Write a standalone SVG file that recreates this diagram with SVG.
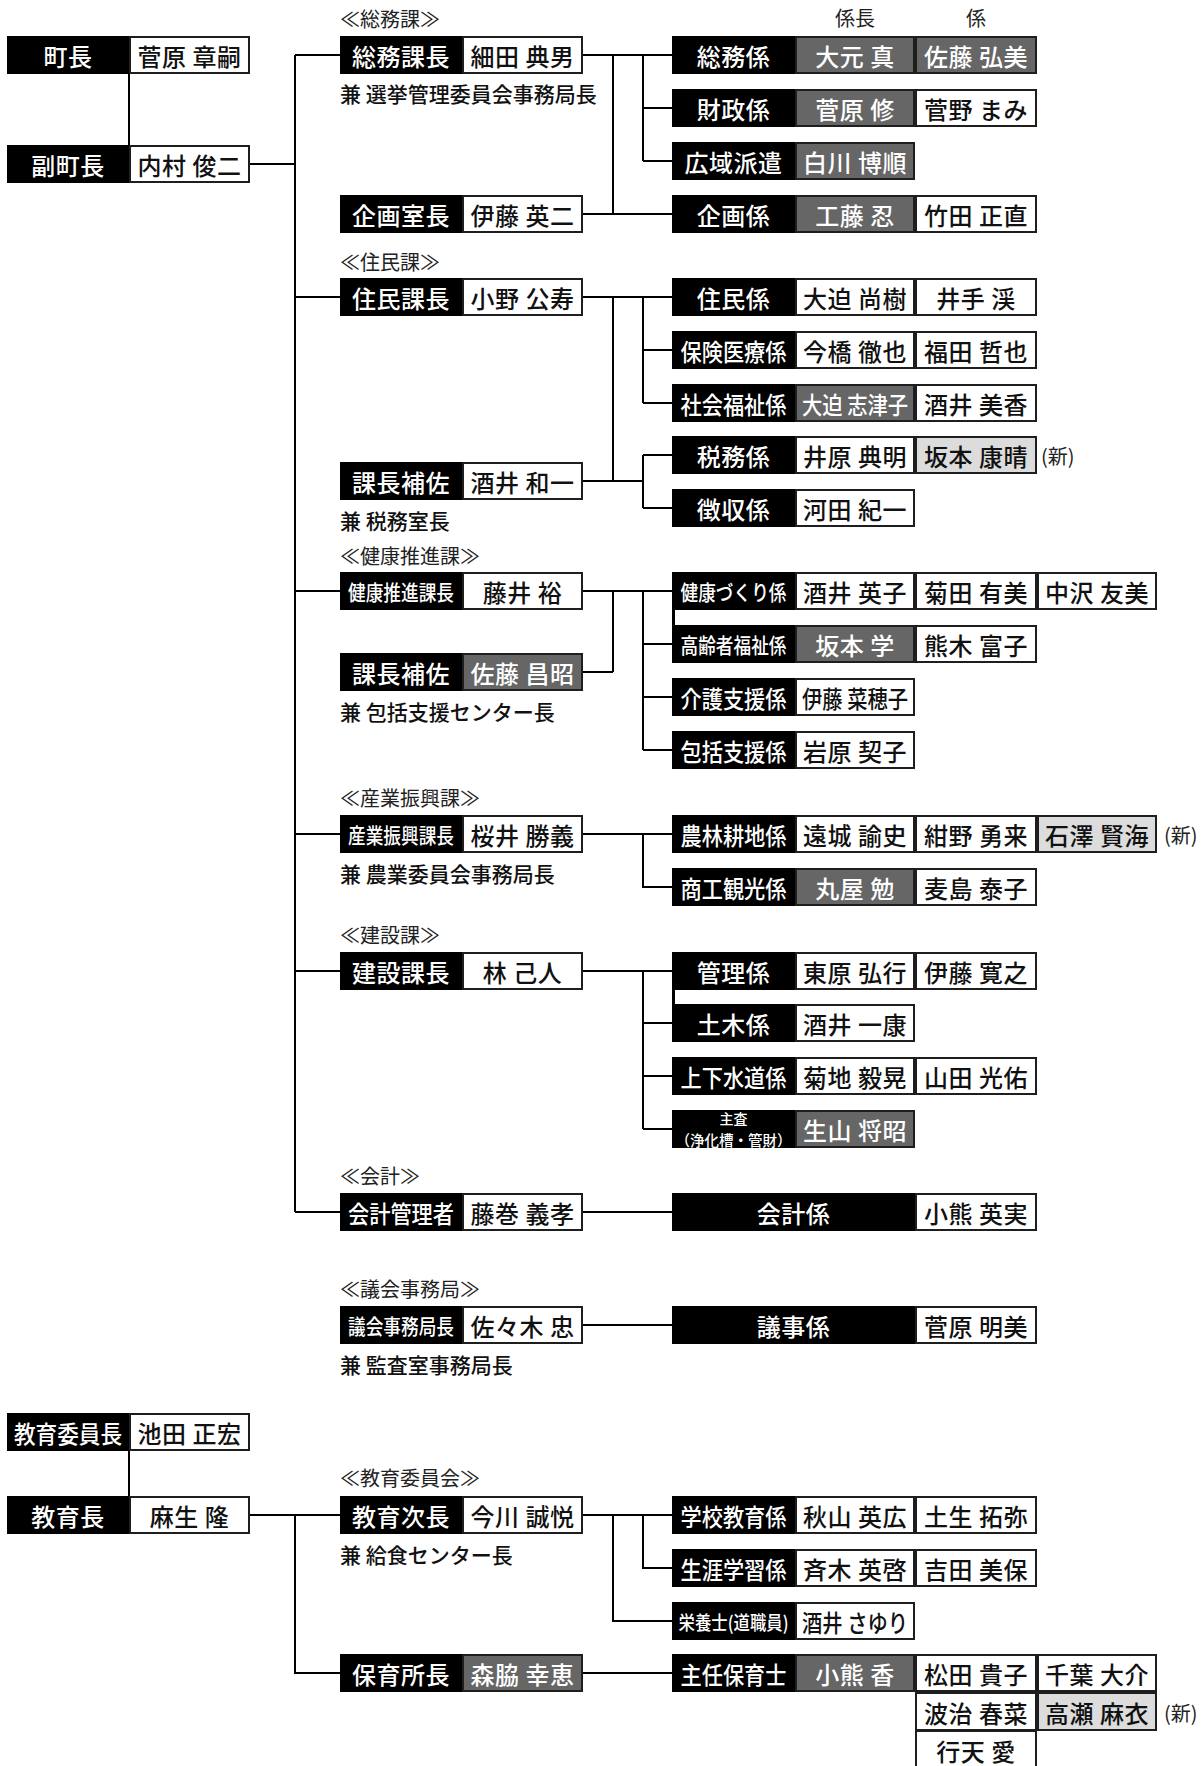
<svg xmlns="http://www.w3.org/2000/svg" width="1203" height="1766" viewBox="0 0 1203 1766">
<defs><style>
.k{fill:#000}
.w{fill:#fff;stroke:#1e1e1e;stroke-width:2}
.g{fill:#666;stroke:#1e1e1e;stroke-width:2}
.l{fill:#dcdcdc;stroke:#1e1e1e;stroke-width:2}
text{font-family:"Noto Sans CJK JP","Noto Sans CJK SC",sans-serif}
.t{font-size:24px;font-weight:500;letter-spacing:0.5px;text-anchor:middle;dominant-baseline:central;fill:#111}
.c{letter-spacing:0}
.s6{font-size:21px}
.on{fill:#fff}
.sec{font-size:20px;font-weight:400;fill:#222;dominant-baseline:central}
.sub{font-size:21px;font-weight:500;fill:#111;dominant-baseline:central}
.hd{font-size:20px;font-weight:400;fill:#222;text-anchor:middle;dominant-baseline:central}
.new{font-size:20px;font-weight:400;fill:#222;dominant-baseline:central}
.sm{font-weight:500;fill:#fff;text-anchor:middle;dominant-baseline:central}
.conn{fill:none;stroke:#000;stroke-width:2}
</style></defs>
<rect width="1203" height="1766" fill="#fff"/>

<g id="connectors" class="conn">
<path d="M129 74V145"/>
<path d="M250 164H295"/>
<path d="M295 55V1212"/>
<path d="M295 55H340M295 297H340M295 591H340M295 834H340M295 971H340M295 1212H340"/>
<path d="M583 55H672M613 55V214M583 214H672M643 55V161M643 108H672M643 161H672"/>
<path d="M583 297H672M613 297V481M583 481H643M643 297V403M643 350H672M643 403H672M643 455V508M643 455H672M643 508H672"/>
<path d="M583 591H672M613 591V672M583 672H613M643 591V750M643 644H672M643 697H672M643 750H672"/>
<path d="M583 834H672M643 834V887H672"/>
<path d="M583 971H672M643 971V1129M643 1023H672M643 1076H672M643 1129H672"/>
<path d="M583 1212H672"/>
<path d="M583 1325H672"/>
<path d="M129 1451V1496"/>
<path d="M250 1515H340M295 1515V1673H340"/>
<path d="M583 1515H672M613 1515V1621H672M643 1515V1568H672"/>
<path d="M583 1673H672"/>
</g>

<g id="headers">
<text class="hd" x="855" y="17">係長</text>
<text class="hd" x="976" y="17">係</text>
</g>

<g id="section-labels">
<text class="sec" x="340" y="18">≪総務課≫</text>
<text class="sec" x="340" y="261">≪住民課≫</text>
<text class="sec" x="340" y="555">≪健康推進課≫</text>
<text class="sec" x="340" y="797">≪産業振興課≫</text>
<text class="sec" x="340" y="934">≪建設課≫</text>
<text class="sec" x="340" y="1175">≪会計≫</text>
<text class="sec" x="340" y="1288">≪議会事務局≫</text>
<text class="sec" x="340" y="1477">≪教育委員会≫</text>
</g>

<!-- Column A -->
<g id="chocho">
<rect class="k" x="7" y="36" width="122" height="38"/>
<rect class="w" x="130" y="37" width="119" height="36"/>
<text class="t on" x="68" y="55">町長</text>
<text class="t" x="189.5" y="55">菅原 章嗣</text>
</g>
<g id="fukuchocho">
<rect class="k" x="7" y="145" width="122" height="38"/>
<rect class="w" x="130" y="146" width="119" height="36"/>
<text class="t on" x="68" y="164">副町長</text>
<text class="t" x="189.5" y="164">内村 俊二</text>
</g>
<g id="kyoiku-iincho">
<rect class="k" x="7" y="1413" width="122" height="38"/>
<rect class="w" x="130" y="1414" width="119" height="36"/>
<text class="t on c" x="68" y="1432" textLength="108" lengthAdjust="spacingAndGlyphs">教育委員長</text>
<text class="t" x="189.5" y="1432">池田 正宏</text>
</g>
<g id="kyoikucho">
<rect class="k" x="7" y="1496" width="122" height="38"/>
<rect class="w" x="130" y="1497" width="119" height="36"/>
<text class="t on" x="68" y="1515">教育長</text>
<text class="t" x="189.5" y="1515">麻生 隆</text>
</g>

<!-- Column B -->
<g id="somu-kacho">
<rect class="k" x="340" y="36" width="122" height="38"/>
<rect class="w" x="463" y="37" width="119" height="36"/>
<text class="t on" x="401" y="55">総務課長</text>
<text class="t" x="522.5" y="55">細田 典男</text>
<text class="sub" x="340" y="93">兼 選挙管理委員会事務局長</text>
</g>
<g id="kikaku-shitsucho">
<rect class="k" x="340" y="195" width="122" height="38"/>
<rect class="w" x="463" y="196" width="119" height="36"/>
<text class="t on" x="401" y="214">企画室長</text>
<text class="t" x="522.5" y="214">伊藤 英二</text>
</g>
<g id="jumin-kacho">
<rect class="k" x="340" y="278" width="122" height="38"/>
<rect class="w" x="463" y="279" width="119" height="36"/>
<text class="t on" x="401" y="297">住民課長</text>
<text class="t" x="522.5" y="297">小野 公寿</text>
</g>
<g id="jumin-hosa">
<rect class="k" x="340" y="462" width="122" height="38"/>
<rect class="w" x="463" y="463" width="119" height="36"/>
<text class="t on" x="401" y="481">課長補佐</text>
<text class="t" x="522.5" y="481">酒井 和一</text>
<text class="sub" x="340" y="520">兼 税務室長</text>
</g>
<g id="kenko-kacho">
<rect class="k" x="340" y="572" width="122" height="38"/>
<rect class="w" x="463" y="573" width="119" height="36"/>
<text class="t on c s6" x="401" y="591" textLength="106" lengthAdjust="spacingAndGlyphs">健康推進課長</text>
<text class="t" x="522.5" y="591">藤井 裕</text>
</g>
<g id="kenko-hosa">
<rect class="k" x="340" y="653" width="122" height="38"/>
<rect class="g" x="463" y="654" width="119" height="36"/>
<text class="t on" x="401" y="672">課長補佐</text>
<text class="t on" x="522.5" y="672">佐藤 昌昭</text>
<text class="sub" x="340" y="711">兼 包括支援センター長</text>
</g>
<g id="sangyo-kacho">
<rect class="k" x="340" y="815" width="122" height="38"/>
<rect class="w" x="463" y="816" width="119" height="36"/>
<text class="t on c s6" x="401" y="834" textLength="106" lengthAdjust="spacingAndGlyphs">産業振興課長</text>
<text class="t" x="522.5" y="834">桜井 勝義</text>
<text class="sub" x="340" y="873">兼 農業委員会事務局長</text>
</g>
<g id="kensetsu-kacho">
<rect class="k" x="340" y="952" width="122" height="38"/>
<rect class="w" x="463" y="953" width="119" height="36"/>
<text class="t on" x="401" y="971">建設課長</text>
<text class="t" x="522.5" y="971">林 己人</text>
</g>
<g id="kaikei-kanrisha">
<rect class="k" x="340" y="1193" width="122" height="38"/>
<rect class="w" x="463" y="1194" width="119" height="36"/>
<text class="t on c" x="401" y="1212" textLength="106" lengthAdjust="spacingAndGlyphs">会計管理者</text>
<text class="t" x="522.5" y="1212">藤巻 義孝</text>
</g>
<g id="gikai-kyokucho">
<rect class="k" x="340" y="1306" width="122" height="38"/>
<rect class="w" x="463" y="1307" width="119" height="36"/>
<text class="t on c s6" x="401" y="1325" textLength="106" lengthAdjust="spacingAndGlyphs">議会事務局長</text>
<text class="t" x="522.5" y="1325">佐々木 忠</text>
<text class="sub" x="340" y="1364">兼 監査室事務局長</text>
</g>
<g id="kyoiku-jicho">
<rect class="k" x="340" y="1496" width="122" height="38"/>
<rect class="w" x="463" y="1497" width="119" height="36"/>
<text class="t on" x="401" y="1515">教育次長</text>
<text class="t" x="522.5" y="1515">今川 誠悦</text>
<text class="sub" x="340" y="1554">兼 給食センター長</text>
</g>
<g id="hoikusho-cho">
<rect class="k" x="340" y="1654" width="122" height="38"/>
<rect class="g" x="463" y="1655" width="119" height="36"/>
<text class="t on" x="401" y="1673">保育所長</text>
<text class="t on" x="522.5" y="1673">森脇 幸恵</text>
</g>

<!-- Column C -->
<g id="somu-kakari">
<rect class="k" x="672" y="36" width="123" height="38"/>
<rect class="g" x="796" y="37" width="118" height="36"/>
<rect class="g" x="916" y="37" width="120" height="36"/>
<text class="t on" x="733.5" y="55">総務係</text>
<text class="t on" x="855" y="55">大元 真</text>
<text class="t on" x="976" y="55">佐藤 弘美</text>
</g>
<g id="zaisei-kakari">
<rect class="k" x="672" y="89" width="123" height="38"/>
<rect class="g" x="796" y="90" width="118" height="36"/>
<rect class="w" x="916" y="90" width="120" height="36"/>
<text class="t on" x="733.5" y="108">財政係</text>
<text class="t on" x="855" y="108">菅原 修</text>
<text class="t" x="976" y="108">菅野 まみ</text>
</g>
<g id="koiki-haken">
<rect class="k" x="672" y="142" width="123" height="38"/>
<rect class="g" x="796" y="143" width="118" height="36"/>
<text class="t on" x="733.5" y="161">広域派遣</text>
<text class="t on" x="855" y="161">白川 博順</text>
</g>
<g id="kikaku-kakari">
<rect class="k" x="672" y="195" width="123" height="38"/>
<rect class="g" x="796" y="196" width="118" height="36"/>
<rect class="w" x="916" y="196" width="120" height="36"/>
<text class="t on" x="733.5" y="214">企画係</text>
<text class="t on" x="855" y="214">工藤 忍</text>
<text class="t" x="976" y="214">竹田 正直</text>
</g>

<g id="jumin-kakari">
<rect class="k" x="672" y="278" width="123" height="38"/>
<rect class="w" x="796" y="279" width="118" height="36"/>
<rect class="w" x="916" y="279" width="120" height="36"/>
<text class="t on" x="733.5" y="297">住民係</text>
<text class="t" x="855" y="297">大迫 尚樹</text>
<text class="t" x="976" y="297">井手 渓</text>
</g>
<g id="hoken-kakari">
<rect class="k" x="672" y="331" width="123" height="38"/>
<rect class="w" x="796" y="332" width="118" height="36"/>
<rect class="w" x="916" y="332" width="120" height="36"/>
<text class="t on c" x="733.5" y="350" textLength="106" lengthAdjust="spacingAndGlyphs">保険医療係</text>
<text class="t" x="855" y="350">今橋 徹也</text>
<text class="t" x="976" y="350">福田 哲也</text>
</g>
<g id="shakai-kakari">
<rect class="k" x="672" y="384" width="123" height="38"/>
<rect class="g" x="796" y="385" width="118" height="36"/>
<rect class="w" x="916" y="385" width="120" height="36"/>
<text class="t on c" x="733.5" y="403" textLength="106" lengthAdjust="spacingAndGlyphs">社会福祉係</text>
<text class="t on c" x="855" y="403" textLength="106" lengthAdjust="spacingAndGlyphs">大迫 志津子</text>
<text class="t" x="976" y="403">酒井 美香</text>
</g>
<g id="zeimu-kakari">
<rect class="k" x="672" y="436" width="123" height="38"/>
<rect class="w" x="796" y="437" width="118" height="36"/>
<rect class="l" x="916" y="437" width="120" height="36"/>
<text class="t on" x="733.5" y="455">税務係</text>
<text class="t" x="855" y="455">井原 典明</text>
<text class="t" x="976" y="455">坂本 康晴</text>
<text class="new" x="1041" y="455">(新)</text>
</g>
<g id="choshu-kakari">
<rect class="k" x="672" y="489" width="123" height="38"/>
<rect class="w" x="796" y="490" width="118" height="36"/>
<text class="t on" x="733.5" y="508">徴収係</text>
<text class="t" x="855" y="508">河田 紀一</text>
</g>

<g id="kenkozukuri-kakari">
<rect class="k" x="672" y="572" width="123" height="38"/>
<rect class="k" x="672" y="609" width="3" height="17"/>
<rect class="w" x="796" y="573" width="118" height="36"/>
<rect class="w" x="916" y="573" width="120" height="36"/>
<rect class="w" x="1038" y="573" width="118" height="36"/>
<text class="t on c s6" x="733.5" y="591" textLength="106" lengthAdjust="spacingAndGlyphs">健康づくり係</text>
<text class="t" x="855" y="591">酒井 英子</text>
<text class="t" x="976" y="591">菊田 有美</text>
<text class="t" x="1097" y="591">中沢 友美</text>
</g>
<g id="koreisha-kakari">
<rect class="k" x="672" y="625" width="123" height="38"/>
<rect class="g" x="796" y="626" width="118" height="36"/>
<rect class="w" x="916" y="626" width="120" height="36"/>
<text class="t on c s6" x="733.5" y="644" textLength="106" lengthAdjust="spacingAndGlyphs">高齢者福祉係</text>
<text class="t on" x="855" y="644">坂本 学</text>
<text class="t" x="976" y="644">熊木 富子</text>
</g>
<g id="kaigo-kakari">
<rect class="k" x="672" y="678" width="123" height="38"/>
<rect class="w" x="796" y="679" width="118" height="36"/>
<text class="t on c" x="733.5" y="697" textLength="106" lengthAdjust="spacingAndGlyphs">介護支援係</text>
<text class="t c" x="855" y="697" textLength="106" lengthAdjust="spacingAndGlyphs">伊藤 菜穂子</text>
</g>
<g id="hokatsu-kakari">
<rect class="k" x="672" y="731" width="123" height="38"/>
<rect class="w" x="796" y="732" width="118" height="36"/>
<text class="t on c" x="733.5" y="750" textLength="106" lengthAdjust="spacingAndGlyphs">包括支援係</text>
<text class="t" x="855" y="750">岩原 契子</text>
</g>

<g id="norin-kakari">
<rect class="k" x="672" y="815" width="123" height="38"/>
<rect class="w" x="796" y="816" width="118" height="36"/>
<rect class="w" x="916" y="816" width="120" height="36"/>
<rect class="l" x="1038" y="816" width="118" height="36"/>
<text class="t on c" x="733.5" y="834" textLength="106" lengthAdjust="spacingAndGlyphs">農林耕地係</text>
<text class="t" x="855" y="834">遠城 諭史</text>
<text class="t" x="976" y="834">紺野 勇来</text>
<text class="t" x="1097" y="834">石澤 賢海</text>
<text class="new" x="1164" y="834">(新)</text>
</g>
<g id="shoko-kakari">
<rect class="k" x="672" y="868" width="123" height="38"/>
<rect class="g" x="796" y="869" width="118" height="36"/>
<rect class="w" x="916" y="869" width="120" height="36"/>
<text class="t on c" x="733.5" y="887" textLength="106" lengthAdjust="spacingAndGlyphs">商工観光係</text>
<text class="t on" x="855" y="887">丸屋 勉</text>
<text class="t" x="976" y="887">麦島 泰子</text>
</g>

<g id="kanri-kakari">
<rect class="k" x="672" y="952" width="123" height="38"/>
<rect class="k" x="672" y="989" width="3" height="16"/>
<rect class="w" x="796" y="953" width="118" height="36"/>
<rect class="w" x="916" y="953" width="120" height="36"/>
<text class="t on" x="733.5" y="971">管理係</text>
<text class="t" x="855" y="971">東原 弘行</text>
<text class="t" x="976" y="971">伊藤 寛之</text>
</g>
<g id="doboku-kakari">
<rect class="k" x="672" y="1004" width="123" height="38"/>
<rect class="w" x="796" y="1005" width="118" height="36"/>
<text class="t on" x="733.5" y="1023">土木係</text>
<text class="t" x="855" y="1023">酒井 一康</text>
</g>
<g id="joge-kakari">
<rect class="k" x="672" y="1057" width="123" height="38"/>
<rect class="w" x="796" y="1058" width="118" height="36"/>
<rect class="w" x="916" y="1058" width="120" height="36"/>
<text class="t on c" x="733.5" y="1076" textLength="106" lengthAdjust="spacingAndGlyphs">上下水道係</text>
<text class="t" x="855" y="1076">菊地 毅晃</text>
<text class="t" x="976" y="1076">山田 光佑</text>
</g>
<g id="shusa">
<rect class="k" x="672" y="1110" width="123" height="38"/>
<rect class="g" x="796" y="1111" width="118" height="36"/>
<text class="sm" x="733.5" y="1118" style="font-size:14px">主査</text>
<text class="sm" x="733.5" y="1139" style="font-size:15px" textLength="116" lengthAdjust="spacingAndGlyphs">（浄化槽・管財）</text>
<text class="t on" x="855" y="1129">生山 将昭</text>
</g>

<g id="kaikei-kakari">
<rect class="k" x="672" y="1193" width="243" height="38"/>
<rect class="w" x="916" y="1194" width="120" height="36"/>
<text class="t on" x="793.5" y="1212">会計係</text>
<text class="t" x="976" y="1212">小熊 英実</text>
</g>
<g id="giji-kakari">
<rect class="k" x="672" y="1306" width="243" height="38"/>
<rect class="w" x="916" y="1307" width="120" height="36"/>
<text class="t on" x="793.5" y="1325">議事係</text>
<text class="t" x="976" y="1325">菅原 明美</text>
</g>

<g id="gakko-kakari">
<rect class="k" x="672" y="1496" width="123" height="38"/>
<rect class="w" x="796" y="1497" width="118" height="36"/>
<rect class="w" x="916" y="1497" width="120" height="36"/>
<text class="t on c" x="733.5" y="1515" textLength="106" lengthAdjust="spacingAndGlyphs">学校教育係</text>
<text class="t" x="855" y="1515">秋山 英広</text>
<text class="t" x="976" y="1515">土生 拓弥</text>
</g>
<g id="shogai-kakari">
<rect class="k" x="672" y="1549" width="123" height="38"/>
<rect class="w" x="796" y="1550" width="118" height="36"/>
<rect class="w" x="916" y="1550" width="120" height="36"/>
<text class="t on c" x="733.5" y="1568" textLength="106" lengthAdjust="spacingAndGlyphs">生涯学習係</text>
<text class="t" x="855" y="1568">斉木 英啓</text>
<text class="t" x="976" y="1568">吉田 美保</text>
</g>
<g id="eiyoshi">
<rect class="k" x="672" y="1602" width="123" height="38"/>
<rect class="w" x="796" y="1603" width="118" height="36"/>
<text class="t on c" x="733.5" y="1621" style="font-size:19px" textLength="110" lengthAdjust="spacingAndGlyphs">栄養士(道職員)</text>
<text class="t c" x="855" y="1621" textLength="106" lengthAdjust="spacingAndGlyphs">酒井 さゆり</text>
</g>
<g id="shunin-hoikushi">
<rect class="k" x="672" y="1654" width="123" height="38"/>
<rect class="g" x="796" y="1655" width="118" height="36"/>
<rect class="w" x="916" y="1655" width="120" height="36"/>
<rect class="w" x="1038" y="1655" width="118" height="36"/>
<rect class="w" x="916" y="1693" width="120" height="37"/>
<rect class="l" x="1038" y="1693" width="118" height="37"/>
<rect class="w" x="916" y="1731" width="120" height="40"/>
<text class="t on c" x="733.5" y="1673" textLength="106" lengthAdjust="spacingAndGlyphs">主任保育士</text>
<text class="t on" x="855" y="1673">小熊 香</text>
<text class="t" x="976" y="1673">松田 貴子</text>
<text class="t" x="1097" y="1673">千葉 大介</text>
<text class="t" x="976" y="1712">波治 春菜</text>
<text class="t" x="1097" y="1712">高瀬 麻衣</text>
<text class="new" x="1164" y="1712">(新)</text>
<text class="t" x="976" y="1750">行天 愛</text>
</g>
</svg>
